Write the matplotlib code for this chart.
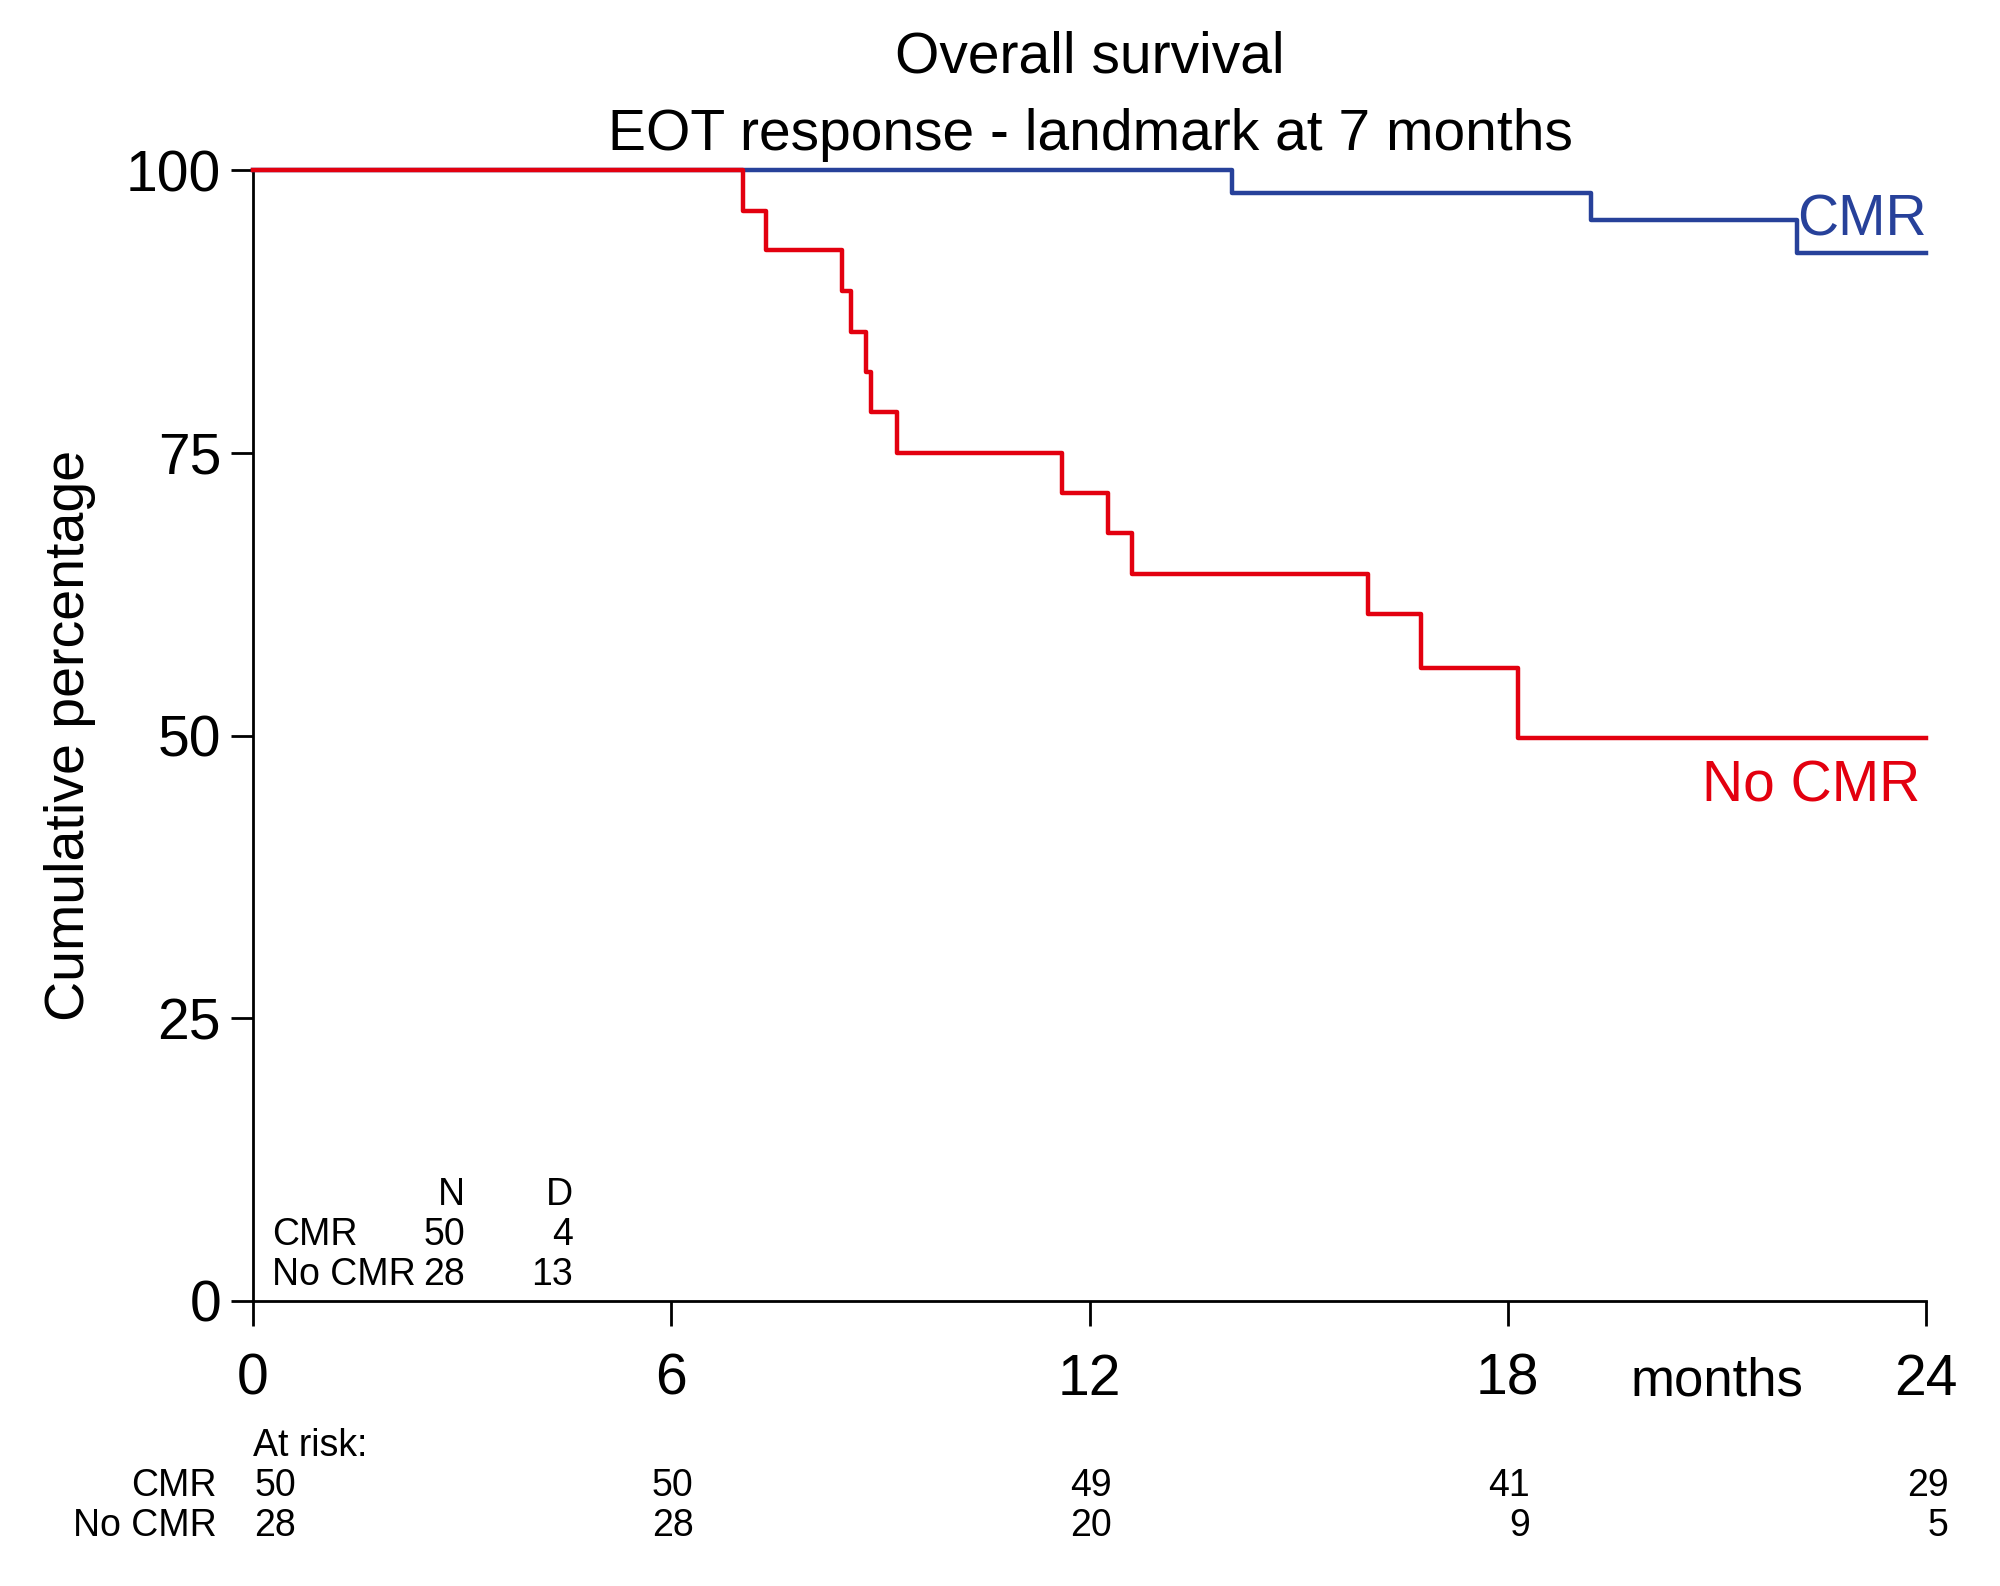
import numpy as np
import matplotlib.pyplot as plt
import matplotlib.transforms as mtransforms

plt.rcParams['font.family'] = ['Liberation Sans', 'DejaVu Sans']

# Kaplan-Meier steps (months, %)
cmr_t = [0, 14.04, 19.19, 22.15, 24]
cmr_s = [100, 98.0, 95.6, 92.7, 92.7]
nocmr_t = [0, 7.03, 7.36, 8.45, 8.58, 8.80, 8.87, 9.24, 11.60, 12.26, 12.61, 16.00, 16.76, 18.14, 24]
nocmr_s = [100, 96.4, 92.9, 89.3, 85.7, 82.1, 78.6, 75.0, 71.4, 67.9, 64.3, 60.7, 56.0, 49.8, 49.8]

groups = ["CMR", "No CMR"]
n_total = [50, 28]
n_deaths = [4, 13]

risk_times = [0, 6, 12, 18, 24]
risk_cmr = [50, 50, 49, 41, 29]
risk_nocmr = [28, 28, 20, 9, 5]

blue = '#27419a'
red = '#e3000f'

fig = plt.figure(figsize=(10, 7.93), dpi=200)
ax = fig.add_axes([0.1265, 0.1797, 0.8365, 0.7131])

ax.step(cmr_t, cmr_s, where='post', color=blue, lw=1.6, clip_on=False, zorder=3)
ax.step(nocmr_t, nocmr_s, where='post', color=red, lw=1.6, clip_on=False, zorder=4)

ax.set_xlim(0, 24)
ax.set_ylim(0, 100)
ax.set_xticks([0, 6, 12, 18, 24])
ax.set_yticks([0, 25, 50, 75, 100])
for s in ['top', 'right']:
    ax.spines[s].set_visible(False)
for s in ['left', 'bottom']:
    ax.spines[s].set_linewidth(1.0)
ax.tick_params(axis='x', direction='out', length=9, width=1.0, pad=9.6, labelsize=20.5)
ax.tick_params(axis='y', direction='out', length=8, width=1.0, pad=3.5, labelsize=20.5)

fig.text(0.035, 0.536, 'Cumulative percentage', rotation=90, ha='center', va='center', fontsize=20)

# titles
fig.text(0.545, 0.964, 'Overall survival', ha='center', va='center', fontsize=20.5)
fig.text(0.545, 0.915, 'EOT response - landmark at 7 months', ha='center', va='center', fontsize=20.5)

# curve labels
ax.text(22.15, 94.25, 'CMR', color=blue, fontsize=20.5, ha='left', va='baseline', zorder=5)
ax.text(23.92, 44.2, 'No CMR', color=red, fontsize=20.5, ha='right', va='baseline')

# N / D table
ax.text(3.04, 8.49, 'N', ha='right', va='baseline', fontsize=13.5)
ax.text(4.59, 8.49, 'D', ha='right', va='baseline', fontsize=13.5)
for i, g in enumerate(groups):
    yb = 4.95 - i * 3.54
    ax.text(0.27, yb, g, ha='left', va='baseline', fontsize=13.5)
    ax.text(3.04, yb, str(n_total[i]), ha='right', va='baseline', fontsize=13.5)
    ax.text(4.59, yb, str(n_deaths[i]), ha='right', va='baseline', fontsize=13.5)

# months label and at-risk table below the axis
trans = mtransforms.blended_transform_factory(ax.transData, ax.transAxes)
ax.text(21.0, -0.071, 'months', transform=trans, ha='center', va='center', fontsize=19)
ax.text(0.0, -0.1282, 'At risk:', transform=trans, ha='left', va='center', fontsize=13.5)
rows = [(groups[0], risk_cmr, -0.1636), (groups[1], risk_nocmr, -0.1989)]
for name, vals, yy in rows:
    ax.text(-0.52, yy, name, transform=trans, ha='right', va='center', fontsize=13.5)
    for t, v in zip(risk_times, vals):
        off = 0.62 if t == 0 else 0.32
        ax.text(t + off, yy, str(v), transform=trans, ha='right', va='center', fontsize=13.5)

fig.savefig('out.png', dpi=200, facecolor='white')
